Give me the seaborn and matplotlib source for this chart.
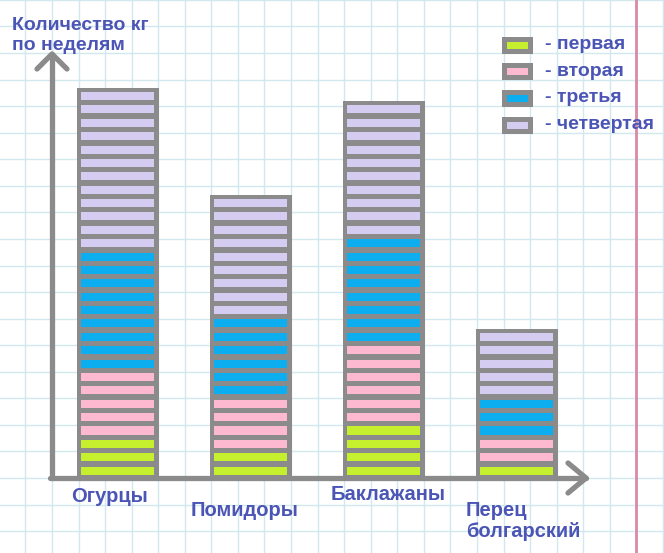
import numpy as np
import pandas as pd
import matplotlib.pyplot as plt
import seaborn as sns
from matplotlib.patches import Rectangle

# kg per week for each vegetable (one stripe = one unit)
categories = ["Огурцы", "Помидоры", "Баклажаны", "Перец\nболгарский"]
weeks = ["первая", "вторая", "третья", "четвертая"]
week1 = [3, 2, 4, 1]
week2 = [5, 4, 6, 2]
week3 = [9, 6, 8, 3]
week4 = [12, 9, 10, 5]

week_colors = ["#c6ef2e", "#fdb9d0", "#0caef0", "#d5cdf1"]
gray = "#8b8b8b"
ink = "#4b55b5"

df = pd.DataFrame({"category": categories, "w1": week1, "w2": week2, "w3": week3, "w4": week4})
df["total"] = df[["w1", "w2", "w3", "w4"]].sum(axis=1)

sns.set_style("white")
plt.rcParams["font.family"] = ["Liberation Sans", "DejaVu Sans"]

fig = plt.figure(figsize=(6.64, 5.53), dpi=100)

# background: graph paper, in pixel coordinates
bg = fig.add_axes([0, 0, 1, 1])
bg.set_xlim(0, 664)
bg.set_ylim(553, 0)
bg.axis("off")
for y in 478 + 26.56 * np.arange(-18, 3):
    bg.axhline(y, color="#d2e8ef", lw=1, zorder=0)
for x in 52 + 26.56 * np.arange(-1, 24):
    bg.axvline(x, color="#d2e8ef", lw=1, zorder=0)
bg.axvline(636, color="#d98aa6", lw=2, zorder=0)

# axes arrows
arrow_kw = dict(color=gray, lw=3.8, solid_capstyle="round", solid_joinstyle="round")
bg.plot([52, 52], [478, 54], **arrow_kw)
bg.plot([37, 52, 67], [69, 54, 69], **arrow_kw)
bg.plot([50, 586], [478, 478], **arrow_kw)
bg.plot([568, 586, 568], [463, 478, 493], **arrow_kw)

bg.text(12, 35.5, "Количество кг\nпо неделям", ha="left", va="center",
        fontsize=14, fontweight="bold", color=ink, linespacing=1.22)

# category labels (staggered like the original)
label_pos = [(109, 496, "center"), (245, 510, "center"), (388, 495, "center"), (466, 521, "left")]
for name, (lx, ly, ha) in zip(categories, label_pos):
    bg.text(lx, ly, name, ha=ha, va="center", fontsize=14.5, fontweight="bold",
            color=ink, linespacing=1.1, multialignment="left")

# legend
for k, (w, c) in enumerate(zip(weeks, week_colors)):
    yc = 44.5 + 26.7 * k
    bg.add_patch(Rectangle((504, yc - 6), 26, 12, facecolor=c, edgecolor=gray,
                           lw=3.6, zorder=3))
    bg.text(545, yc, "- " + w, ha="left", va="center", fontsize=14,
            fontweight="bold", color=ink)

# bars
ax = fig.add_axes([0, 0, 1, 1], facecolor="none")
sns.barplot(data=df, x="category", y="total", color=gray, saturation=1, width=0.586,
            edgecolor=gray, linewidth=3.6, ax=ax)

series = [week1, week2, week3, week4]
for i in range(len(categories)):
    start = 0
    for counts, c in zip(series, week_colors):
        n = counts[i]
        ax.bar(np.full(n, i), 0.6, bottom=start + np.arange(n) + 0.25,
               width=0.549, color=c, linewidth=0, zorder=3)
        start += n

ax.set_xlim(-117.5 / 133, (664 - 117.5) / 133)
ax.set_ylim(-75 / 13.38, 478 / 13.38)
ax.axis("off")

fig.savefig("out.png", dpi=100)
